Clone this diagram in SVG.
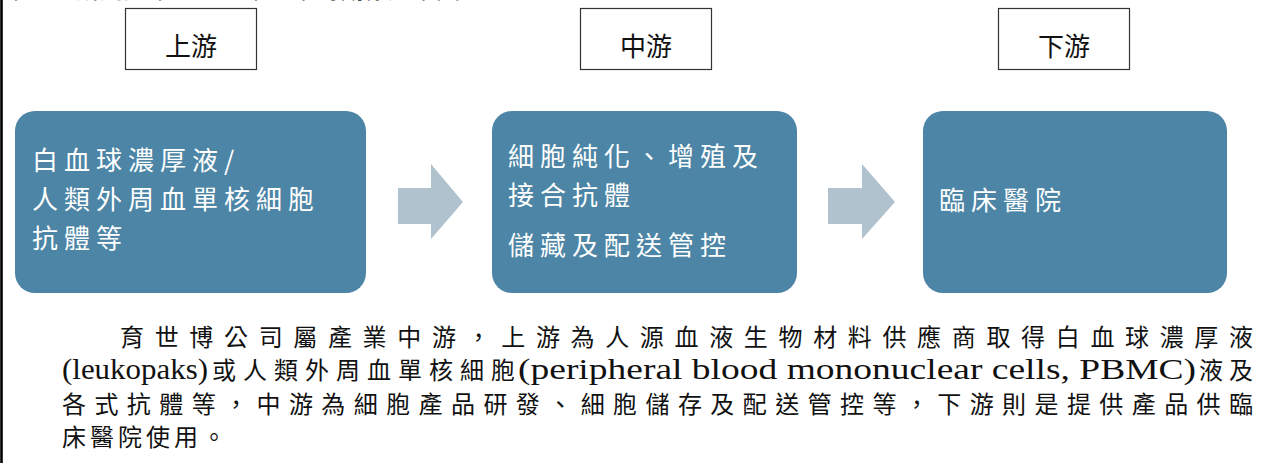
<svg xmlns="http://www.w3.org/2000/svg" width="1269" height="463" viewBox="0 0 1269 463">
<style>
.lbl{fill:none;stroke:#333;stroke-width:1.2}
.lt{font-family:"Noto Sans CJK TC","Noto Sans CJK SC",sans-serif;font-size:26px;fill:#111;text-anchor:middle}
.node{fill:#4C85A5}
.nt{font-family:"Noto Sans CJK TC","Noto Sans CJK SC",sans-serif;font-size:26px;fill:#fff;letter-spacing:6px}
.arr{fill:#B1C2CF}
.cjk{font-family:"Noto Sans CJK TC","Noto Sans CJK SC",sans-serif;font-size:24px;fill:#111}
.en{font-family:"Liberation Serif",serif;font-size:29px;fill:#111}
</style>
<rect width="1269" height="463" fill="#fff"/>
<line x1="1.5" y1="0" x2="1.5" y2="463" stroke="#000" stroke-width="2.6"/>
<text class="cjk" x="4" y="-2" textLength="480" lengthAdjust="spacing">本公司所屬產業之上、中、下游關係如下圖：</text>

<g id="label-upstream">
<rect class="lbl" x="125.5" y="8.5" width="131" height="61"/>
<text class="lt" x="191" y="56">上游</text>
</g>
<g id="label-midstream">
<rect class="lbl" x="580.5" y="8.5" width="131" height="61"/>
<text class="lt" x="646" y="56">中游</text>
</g>
<g id="label-downstream">
<rect class="lbl" x="998.5" y="8.5" width="131" height="61"/>
<text class="lt" x="1064" y="56">下游</text>
</g>

<g id="node-upstream">
<rect class="node" x="15" y="111" width="351" height="182" rx="20"/>
<text class="nt" x="32" y="170">白血球濃厚液/</text>
<text class="nt" x="32" y="209">人類外周血單核細胞</text>
<text class="nt" x="32" y="248">抗體等</text>
</g>
<g id="node-midstream">
<rect class="node" x="492" y="111" width="305" height="182" rx="20"/>
<text class="nt" x="508" y="166">細胞純化、增殖及</text>
<text class="nt" x="508" y="205">接合抗體</text>
<text class="nt" x="508" y="255">儲藏及配送管控</text>
</g>
<g id="node-downstream">
<rect class="node" x="923" y="111" width="304" height="182" rx="20"/>
<text class="nt" x="939" y="210">臨床醫院</text>
</g>

<g id="connectors">
<polygon class="arr" points="398,188 431,188 431,164 463,202 431,239 431,224 398,224"/>
<polygon class="arr" points="828,188 862,188 862,164 895,202 862,239 862,224 828,224"/>
</g>

<g id="paragraph">
<text class="cjk" x="120" y="346" textLength="1133" lengthAdjust="spacing">育世博公司屬產業中游，上游為人源血液生物材料供應商取得白血球濃厚液</text>
<text class="en" x="62" y="379" textLength="146" lengthAdjust="spacingAndGlyphs">(leukopaks)</text>
<text class="cjk" x="212" y="379" textLength="303" lengthAdjust="spacing">或人類外周血單核細胞</text>
<text class="en" x="518" y="379" textLength="678" lengthAdjust="spacingAndGlyphs">(peripheral blood mononuclear cells, PBMC)</text>
<text class="cjk" x="1199" y="379" textLength="54" lengthAdjust="spacing">液及</text>
<text class="cjk" x="62" y="413" textLength="1191" lengthAdjust="spacing">各式抗體等，中游為細胞產品研發、細胞儲存及配送管控等，下游則是提供產品供臨</text>
<text class="cjk" x="62" y="446" letter-spacing="4">床醫院使用。</text>
</g>
</svg>
